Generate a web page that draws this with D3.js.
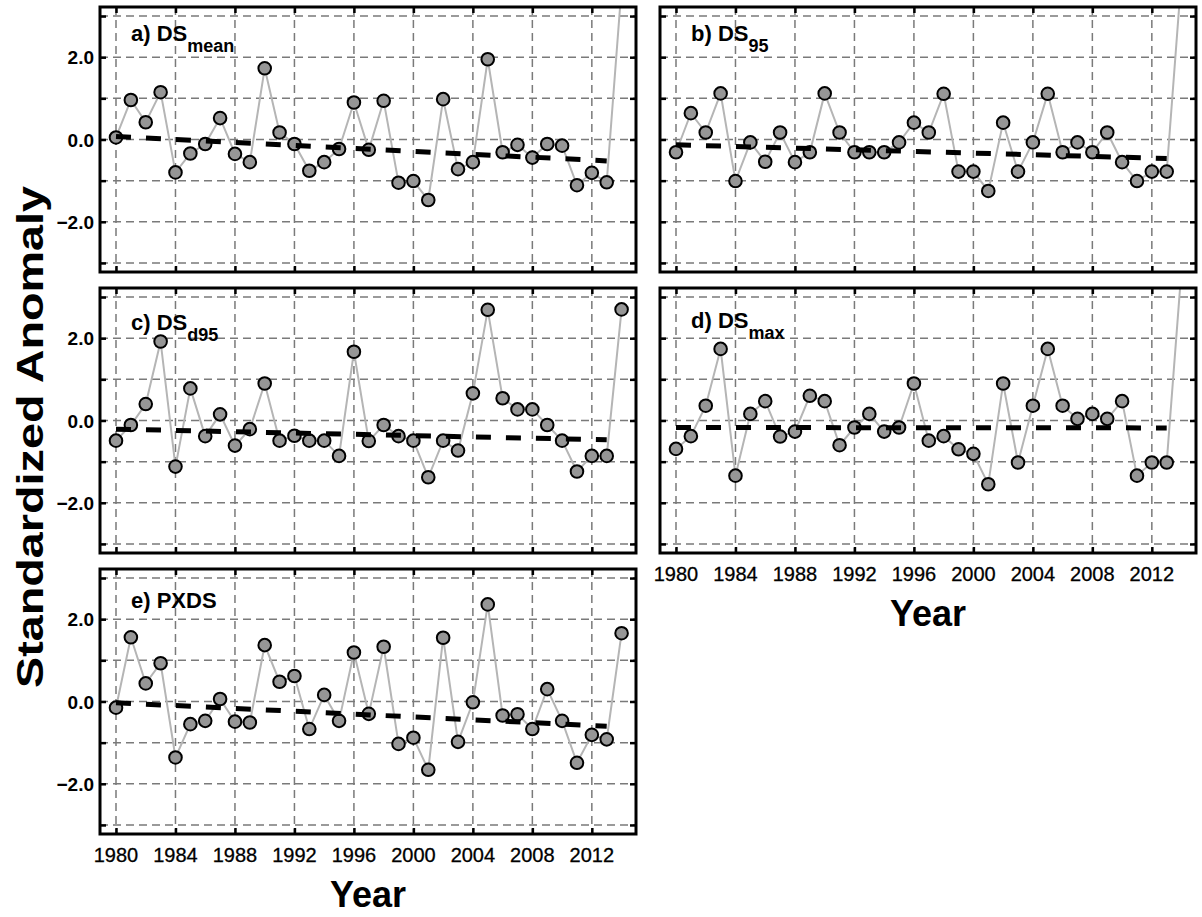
<!DOCTYPE html>
<html><head><meta charset="utf-8">
<script src="https://cdn.jsdelivr.net/npm/d3@7"></script>
<style>body{margin:0;background:#fff}svg{display:block}</style>
</head><body>
<svg id="chart" width="1202" height="917"></svg>
<script>
const years = [1980,1981,1982,1983,1984,1985,1986,1987,1988,1989,1990,1991,1992,1993,1994,1995,1996,1997,1998,1999,2000,2001,2002,2003,2004,2005,2006,2007,2008,2009,2010,2011,2012,2013,2014];
const dsMean = [0.05,0.96,0.42,1.15,-0.80,-0.34,-0.11,0.52,-0.35,-0.55,1.73,0.17,-0.11,-0.76,-0.55,-0.23,0.90,-0.25,0.94,-1.05,-1.01,-1.47,0.98,-0.72,-0.55,1.95,-0.31,-0.13,-0.44,-0.11,-0.15,-1.11,-0.81,-1.04,3.7];
const ds95 = [-0.31,0.64,0.17,1.12,-1.01,-0.07,-0.54,0.17,-0.55,-0.31,1.12,0.17,-0.31,-0.31,-0.31,-0.07,0.41,0.17,1.11,-0.78,-0.78,-1.25,0.41,-0.78,-0.07,1.11,-0.31,-0.07,-0.31,0.17,-0.55,-1.01,-0.78,-0.78,4.0];
const dsD95 = [-0.49,-0.11,0.40,1.92,-1.12,0.78,-0.38,0.15,-0.61,-0.21,0.90,-0.49,-0.37,-0.49,-0.49,-0.86,1.67,-0.50,-0.11,-0.38,-0.49,-1.38,-0.49,-0.73,0.66,2.69,0.54,0.27,0.27,-0.11,-0.49,-1.24,-0.86,-0.86,2.70];
const dsMax = [-0.69,-0.38,0.36,1.74,-1.34,0.16,0.47,-0.39,-0.27,0.60,0.47,-0.60,-0.17,0.16,-0.27,-0.17,0.90,-0.49,-0.38,-0.70,-0.81,-1.55,0.90,-1.02,0.36,1.74,0.36,0.04,0.16,0.04,0.47,-1.34,-1.02,-1.02,3.7];
const pxds = [-0.15,1.56,0.44,0.93,-1.36,-0.55,-0.47,0.06,-0.49,-0.51,1.37,0.48,0.62,-0.67,0.16,-0.47,1.19,-0.30,1.33,-1.03,-0.88,-1.66,1.55,-0.98,-0.02,2.36,-0.34,-0.31,-0.67,0.30,-0.47,-1.49,-0.81,-0.92,1.66];
// linear trend end points (value at 1980, value at 2013)
const trendYears = [1980, 2013];
const trendMean = [0.07, -0.52];
const trend95 = [-0.13, -0.46];
const trendD95 = [-0.21, -0.47];
const trendMax = [-0.17, -0.18];
const trendPxds = [-0.03, -0.60];
const xTicks = [1980,1984,1988,1992,1996,2000,2004,2008,2012];
const yTicks = [-3,-2,-1,0,1,2,3];
const yTickLabels = [-2,0,2];
const panelLabels = ["a) DS","b) DS","c) DS","d) DS","e) PXDS"];
const panelSubs = ["mean","95","d95","max",""];

const W = 536, H = 265;
const panels = [
  {data: dsMean, trend: trendMean, x: 100, y: 7, yl: true, xl: false, ly: 33.5},
  {data: ds95, trend: trend95, x: 660, y: 7, yl: false, xl: false, ly: 33.5},
  {data: dsD95, trend: trendD95, x: 100, y: 288, yl: true, xl: false, ly: 42},
  {data: dsMax, trend: trendMax, x: 660, y: 288, yl: false, xl: true, ly: 40},
  {data: pxds, trend: trendPxds, x: 100, y: 569, yl: true, xl: true, ly: 38.5}
];

const svg = d3.select("#chart");
const xScale = d3.scaleLinear().domain([1978.924, 2014.97]).range([0, W]);
const yScale = d3.scaleLinear().domain([-3.22, 3.22]).range([H, 0]);
const FONT = "'Liberation Sans', Arial, sans-serif";

panels.forEach((p, i) => {
  const g = svg.append("g").attr("transform", `translate(${p.x},${p.y})`);
  const cid = "clip" + i;
  g.append("clipPath").attr("id", cid).append("rect").attr("width", W).attr("height", H);

  // grid
  const grid = g.append("g").attr("stroke", "#7a7a7a").attr("stroke-width", 1.5).attr("stroke-dasharray", "8,5");
  grid.selectAll("line.h").data(yTicks).join("line")
    .attr("x1", 0).attr("x2", W).attr("y1", d => yScale(d)).attr("y2", d => yScale(d));
  grid.selectAll("line.v").data(xTicks).join("line")
    .attr("y1", 0).attr("y2", H).attr("x1", d => xScale(d)).attr("x2", d => xScale(d));

  const plot = g.append("g").attr("clip-path", `url(#${cid})`);
  const line = d3.line().x((d, j) => xScale(years[j])).y(d => yScale(d));
  plot.append("path").datum(p.data).attr("d", line)
    .attr("fill", "none").attr("stroke", "#b5b5b5").attr("stroke-width", 2);
  plot.selectAll("circle").data(p.data).join("circle")
    .attr("cx", (d, j) => xScale(years[j])).attr("cy", d => yScale(d)).attr("r", 6.3)
    .attr("fill", "#969696").attr("stroke", "#000").attr("stroke-width", 2);
  plot.append("path").datum(p.trend)
    .attr("d", d3.line().x((d, j) => xScale(trendYears[j])).y(d => yScale(d)))
    .attr("fill", "none").attr("stroke", "#000").attr("stroke-width", 5).attr("stroke-dasharray", "15,15");

  // axes with inward ticks on all sides
  const tl = 6;
  g.append("g").call(d3.axisLeft(yScale).tickValues(yTicks).tickSize(-tl).tickFormat(""))
    .call(a => a.select(".domain").remove()).selectAll("line").attr("stroke-width", 2.5);
  g.append("g").attr("transform", `translate(${W},0)`)
    .call(d3.axisRight(yScale).tickValues(yTicks).tickSize(-tl).tickFormat(""))
    .call(a => a.select(".domain").remove()).selectAll("line").attr("stroke-width", 2.5);
  g.append("g").call(d3.axisTop(xScale).tickValues(xTicks).tickSize(-tl).tickFormat(""))
    .call(a => a.select(".domain").remove()).selectAll("line").attr("stroke-width", 2.5);
  g.append("g").attr("transform", `translate(0,${H})`)
    .call(d3.axisBottom(xScale).tickValues(xTicks).tickSize(-tl).tickFormat(""))
    .call(a => a.select(".domain").remove()).selectAll("line").attr("stroke-width", 2.5);

  g.append("rect").attr("width", W).attr("height", H).attr("fill", "none")
    .attr("stroke", "#000").attr("stroke-width", 3);

  if (p.yl) {
    g.selectAll("text.yl").data(yTickLabels).join("text")
      .attr("x", -6).attr("y", d => yScale(d) + 7).attr("text-anchor", "end")
      .attr("font-family", FONT).attr("font-weight", "bold").attr("font-size", 19)
      .text(d => d3.format(".1f")(d));
  }
  if (p.xl) {
    g.selectAll("text.xl").data(xTicks).join("text")
      .attr("x", d => xScale(d)).attr("y", H + 28).attr("text-anchor", "middle")
      .attr("font-family", FONT).attr("font-size", 20)
      .attr("stroke", "#000").attr("stroke-width", 0.3)
      .text(d => d);
    g.append("text").attr("x", W / 2).attr("y", H + 73).attr("text-anchor", "middle")
      .attr("font-family", FONT).attr("font-weight", "bold").attr("font-size", 36)
      .text("Year");
  }
  const t = g.append("text").attr("x", 31).attr("y", p.ly)
    .attr("font-family", FONT).attr("font-weight", "bold").attr("font-size", 22)
    .text(panelLabels[i]);
  if (panelSubs[i]) {
    t.append("tspan").attr("dy", 11).attr("font-size", 18).text(panelSubs[i]);
  }
});

svg.append("text")
  .attr("transform", "translate(43,437) rotate(-90)")
  .attr("text-anchor", "middle")
  .attr("font-family", FONT).attr("font-weight", "bold").attr("font-size", 37)
  .attr("textLength", 502).attr("lengthAdjust", "spacingAndGlyphs")
  .text("Standardized Anomaly");
</script>
</body></html>
